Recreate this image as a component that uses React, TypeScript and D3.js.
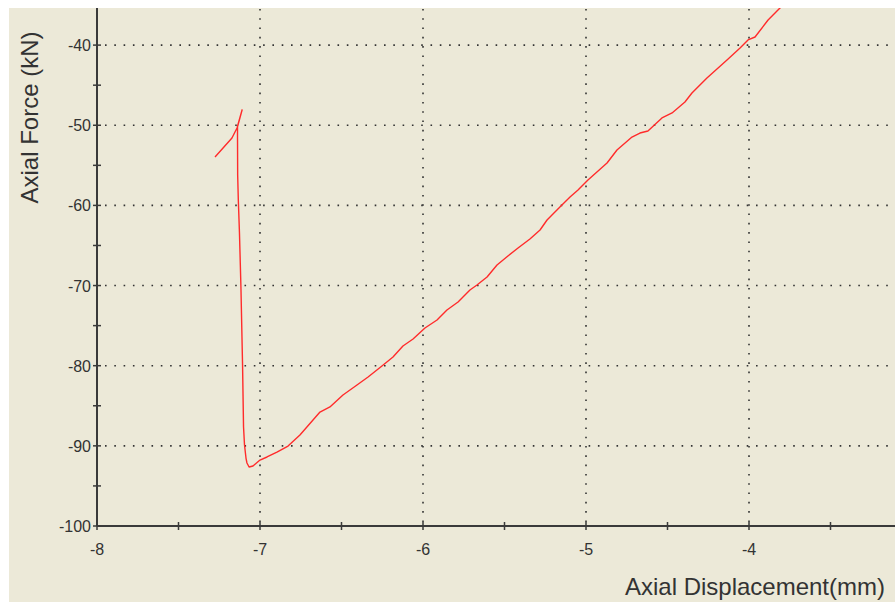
import React from "react";
import * as d3 from "d3";

const xTicks = [-8, -7, -6, -5, -4];
const xMinor = [-7.5, -6.5, -5.5, -4.5, -3.5];
const yTicks = [-100, -90, -80, -70, -60, -50, -40];
const yMinor = [-95, -85, -75, -65, -55, -45];
const xGrid = [-7, -6, -5, -4];
const yGrid = [-90, -80, -70, -60, -50, -40];

// Axial displacement (mm)
const disp = [
  -7.276, -7.172, -7.141, -7.110, -7.138, -7.138, -7.137, -7.133, -7.126, -7.117,
  -7.107, -7.101, -7.095, -7.086, -7.080, -7.067, -7.043, -7.000, -6.957, -6.896,
  -6.828, -6.755, -6.632, -6.571, -6.491, -6.405, -6.337, -6.252, -6.184, -6.123,
  -6.061, -5.988, -5.914, -5.853, -5.785, -5.712, -5.669, -5.607, -5.546, -5.479,
  -5.417, -5.344, -5.282, -5.239, -5.160, -5.098, -5.049, -4.988, -4.933, -4.871,
  -4.810, -4.718, -4.669, -4.620, -4.534, -4.472, -4.393, -4.350, -4.258, -4.135,
  -4.055, -4.006, -3.963, -3.883, -3.810, -3.780,
];
// Axial force (kN)
const force = [
  -53.96, -51.59, -50.34, -48.10, -50.20, -51.22, -56.21, -59.33, -63.44, -70.18,
  -79.91, -87.65, -89.89, -91.52, -92.14, -92.64, -92.51, -91.77, -91.39, -90.77,
  -90.02, -88.65, -85.78, -85.15, -83.66, -82.41, -81.41, -80.04, -78.91, -77.54,
  -76.67, -75.30, -74.30, -73.05, -72.05, -70.56, -69.93, -68.93, -67.44, -66.31,
  -65.32, -64.19, -63.07, -61.82, -60.20, -58.95, -58.08, -56.83, -55.83, -54.71,
  -53.09, -51.47, -50.97, -50.72, -49.09, -48.47, -47.10, -45.98, -44.10, -41.86,
  -40.36, -39.36, -38.99, -36.87, -35.37, -34.90,
];

const W = 895;
const H = 602;
const left = 97;
const right = 895;
const top = 8;
const bottom = 526;

export default function App() {
  const x = d3.scaleLinear().domain([-8, -8 + (right - left) / 163]).range([left, right]);
  const y = d3.scaleLinear().domain([-100, -100 + (bottom - top) / 8.015]).range([bottom, top]);
  const pts: [number, number][] = disp.map((d, i) => [d, force[i]]);
  const line = d3
    .line<[number, number]>()
    .x((d) => x(d[0]))
    .y((d) => y(d[1]));
  const axisColor = "#3a3a3a";
  const font = "'Liberation Sans', Arial, sans-serif";
  return (
    <svg
      width={W}
      height={H}
      style={{ position: "absolute", left: 0, top: 0 }}
      fontFamily={font}
    >
      <rect x={0} y={0} width={W} height={H} fill="#ffffff" />
      <rect x={9} y={8} width={W - 9} height={H - 8} fill="#ECE9D8" />
      <defs>
        <clipPath id="plotClip">
          <rect x={left} y={top} width={right - left} height={bottom - top} />
        </clipPath>
      </defs>
      {/* grid */}
      {xGrid.map((v) => (
        <line
          key={"gx" + v}
          x1={x(v)}
          x2={x(v)}
          y1={bottom - 4}
          y2={top}
          stroke="#333"
          strokeWidth={1.6}
          strokeDasharray="1.6 7.7"
        />
      ))}
      {yGrid.map((v) => (
        <line
          key={"gy" + v}
          x1={left + 8}
          x2={right}
          y1={y(v)}
          y2={y(v)}
          stroke="#333"
          strokeWidth={1.6}
          strokeDasharray="1.6 7.7"
        />
      ))}
      {/* data line */}
      <path
        d={line(pts) || ""}
        fill="none"
        stroke="#ff2b2b"
        strokeWidth={1.4}
        strokeLinejoin="round"
        clipPath="url(#plotClip)"
      />
      {/* axes */}
      <line x1={left} x2={right} y1={bottom} y2={bottom} stroke={axisColor} strokeWidth={2} />
      <line x1={left} x2={left} y1={top} y2={bottom} stroke={axisColor} strokeWidth={2} />
      {xTicks.concat(xMinor).map((v) => (
        <line key={"tx" + v} x1={x(v)} x2={x(v)} y1={bottom - 4} y2={bottom + 4} stroke={axisColor} strokeWidth={1.5} />
      ))}
      {yTicks.concat(yMinor).map((v) => (
        <line key={"ty" + v} x1={left - 4} x2={left + 4} y1={y(v)} y2={y(v)} stroke={axisColor} strokeWidth={1.5} />
      ))}
      {xTicks.map((v) => (
        <text key={"lx" + v} x={x(v)} y={555} textAnchor="middle" fontSize={16} fill="#333">
          {v}
        </text>
      ))}
      {yTicks.map((v) => (
        <text key={"ly" + v} x={91} y={y(v) + 6} textAnchor="end" fontSize={16} fill="#333">
          {v}
        </text>
      ))}
      <text
        transform="translate(38,117.5) rotate(-90)"
        textAnchor="middle"
        fontSize={24}
        fill="#333"
      >
        Axial Force (kN)
      </text>
      <text x={885} y={595} textAnchor="end" fontSize={24} fill="#333">
        Axial Displacement(mm)
      </text>
    </svg>
  );
}
